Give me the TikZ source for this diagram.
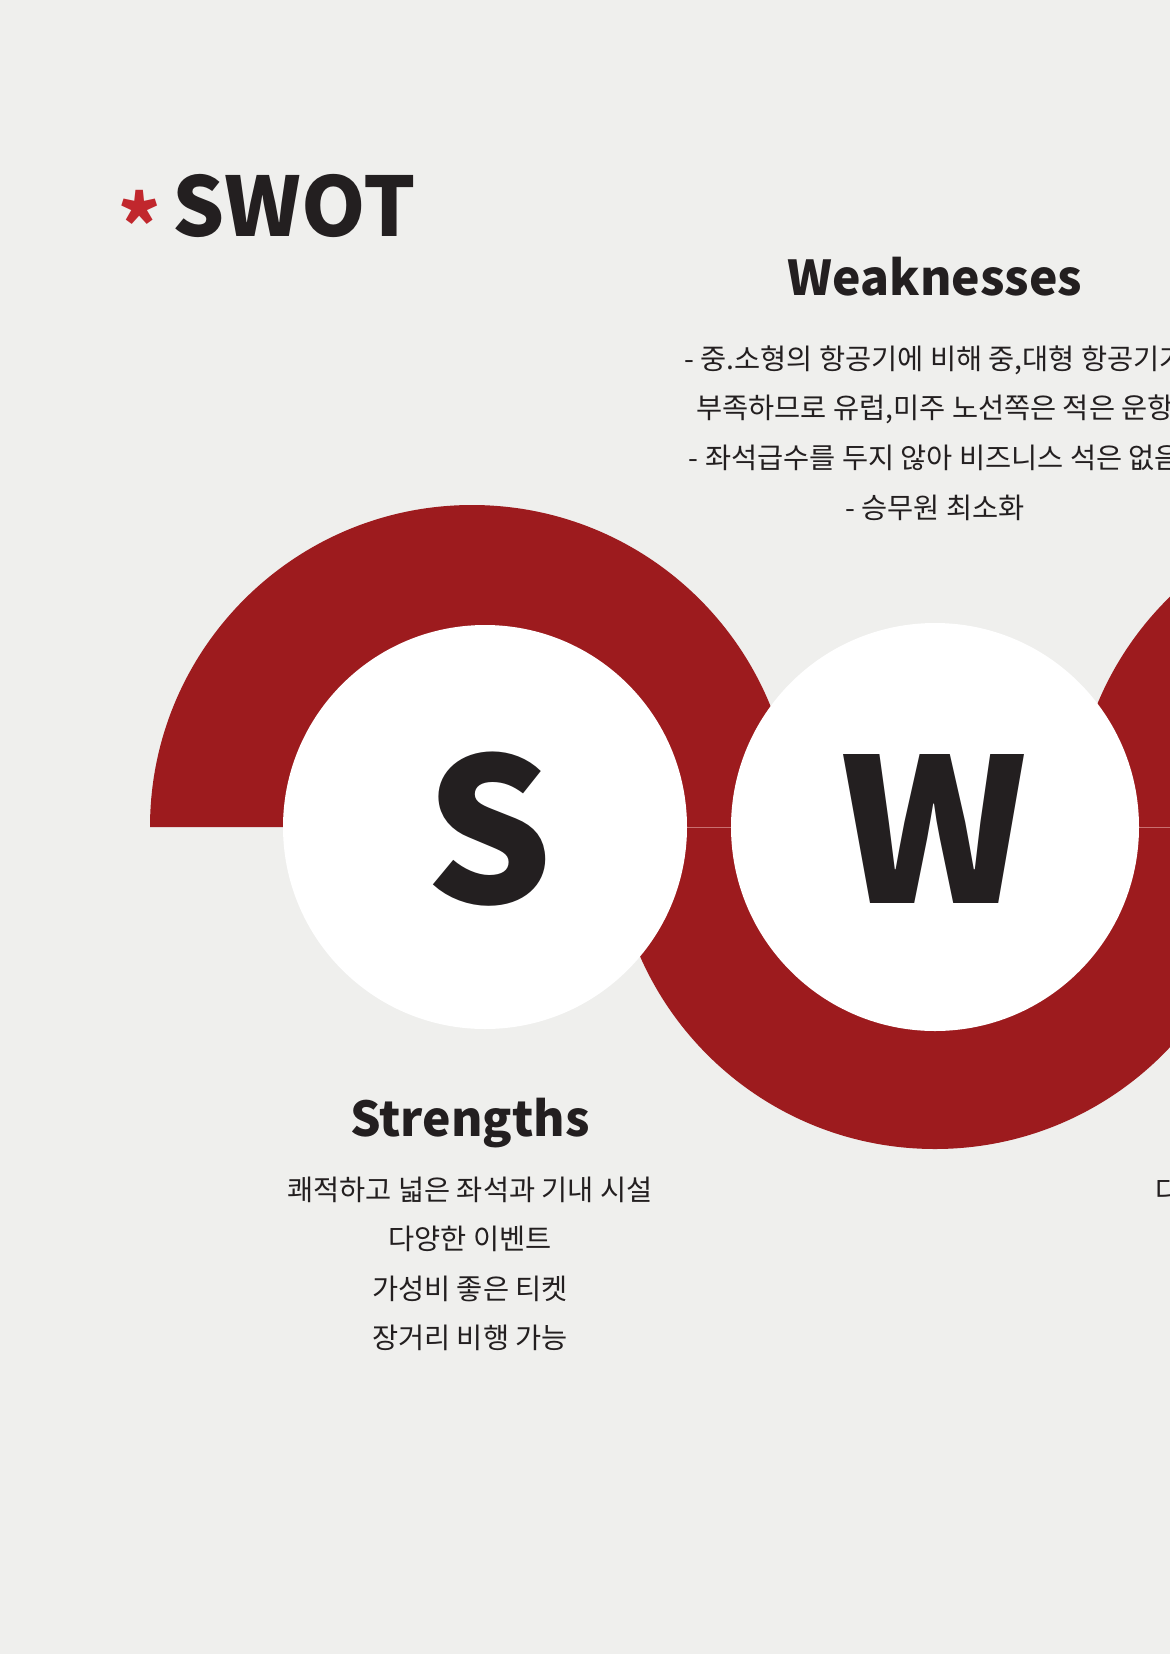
\documentclass[tikz,border=0pt]{standalone}
\usepackage{fontspec}
\setmainfont{Noto Sans CJK KR}
\definecolor{paper}{HTML}{EFEFED}
\definecolor{swotred}{HTML}{9D1B1E}
\definecolor{ink}{HTML}{231F20}
\definecolor{starred}{HTML}{C1272D}
\definecolor{seam}{HTML}{C97070}

\tikzset{
  head/.style={font=\fontsize{24}{26}\selectfont\bfseries,text=ink,anchor=base,inner sep=0pt},
  body/.style={font=\fontsize{14.2}{17}\selectfont,text=ink,anchor=base,inner sep=0pt},
  letter/.style={font=\fontsize{100}{110}\selectfont\bfseries,text=ink,inner sep=0pt}
}

\begin{document}
\begin{tikzpicture}[x=.5pt,y=-.5pt]
\fill[paper] (0,0) rectangle (1170,1654);
\clip (0,0) rectangle (1170,1654);
% title
\node[text=starred,font=\fontsize{40}{40}\selectfont\bfseries,anchor=north,inner sep=0pt] (star) at (140,190) {*};
\node[text=ink,font=\fontsize{41}{44}\selectfont\bfseries,anchor=base west,inner sep=0pt] (title) at (172,236) {SWOT};
% red half discs
\coordinate (sC) at (485,827); \coordinate (wC) at (935,827);
\fill[swotred] (150,827) arc[start angle=180,end angle=360,radius=322] -- cycle;
\fill[swotred] (613,827) arc[start angle=180,end angle=0,radius=322] -- cycle;
\fill[swotred] (1073,827) arc[start angle=180,end angle=360,radius=322] -- cycle;
\draw[seam,line width=.5pt] (613,827) -- (1170,827);
% white discs
\fill[white] (sC) circle (202);
\fill[white] (wC) circle (204);
\node[letter] (sLetter) at (489,829) {S};
\node[letter] (wLetter) at (934,829) {W};
% strengths
\node[head] (sHead) at (470,1136) {Strengths};
\foreach \t [count=\i] in {쾌적하고 넓은 좌석과 기내 시설,다양한 이벤트,가성비 좋은 티켓,장거리 비행 가능}
  \node[body] (s\i) at (470,1200+49.5*\i-49.5) {\t};
% weaknesses
\node[head] (wHead) at (935,295) {Weaknesses};
\foreach \t [count=\i] in {{- 중.소형의 항공기에 비해 중,대형 항공기가},{부족하므로 유럽,미주 노선쪽은 적은 운항},{- 좌석급수를 두지 않아 비즈니스 석은 없음},{- 승무원 최소화}}
  \node[body] (w\i) at (935,369+49.7*\i-49.7) {\t};
% opportunities (cut off)
\node[body,anchor=base west] (o1) at (1155,1201) {다};
\end{tikzpicture}
\end{document}
